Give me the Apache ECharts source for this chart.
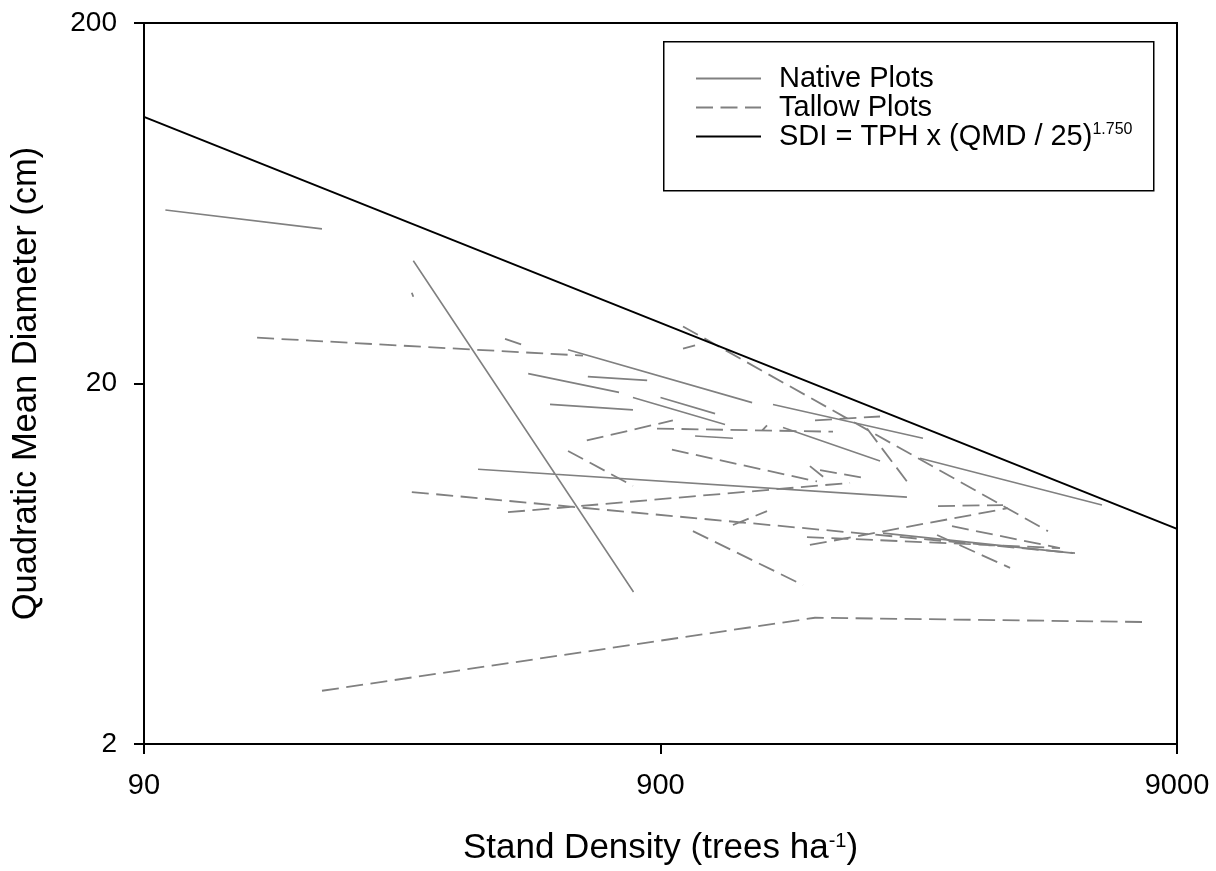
<!DOCTYPE html>
<html>
<head>
<meta charset="utf-8">
<script src="https://cdn.jsdelivr.net/npm/echarts@6/dist/echarts.min.js"></script>
<style>
html,body{margin:0;padding:0;background:#fff;}
#chart{width:1216px;height:871px;}
</style>
</head>
<body>
<div id="chart"></div>
<script>
// ---- data (stand density trees/ha, QMD cm) ----
const xTicks = [90, 900, 9000];
const yTicks = [2, 20, 200];

const nativeSegments = [
  [[99, 60.6], [199, 53.7]],
  [[299, 43.8], [798, 5.28]],
  [[399, 11.56], [2700, 9.68]],
  [[596, 24.8], [1354, 17.7]],
  [[499, 21.3], [748, 18.9]],
  [[651, 20.9], [848, 20.4]],
  [[550, 17.5], [796, 16.9]],
  [[796, 18.3], [1200, 15.4]],
  [[900, 18.3], [1148, 16.5]],
  [[1050, 14.3], [1243, 14.1]],
  [[1486, 17.5], [2900, 14.1]],
  [[1554, 15.1], [2395, 12.2]],
  [[2862, 12.4], [6442, 9.2]],
  [[2427, 7.69], [5661, 6.77]]
];

const tallowSegments = [
  [[149, 26.8], [637, 23.9]],
  [[297, 35.7], [299, 34.8]],
  [[450, 26.6], [499, 25.3]],
  [[995, 28.8], [5063, 7.79]],
  [[995, 25.0], [1050, 25.5]],
  [[648, 13.9], [951, 15.8]],
  [[886, 15.0], [1942, 14.7]],
  [[1792, 15.8], [2395, 16.2]],
  [[947, 13.1], [1808, 10.7]],
  [[596, 13.0], [796, 10.4]],
  [[297, 10.0], [5711, 6.77]],
  [[456, 8.79], [2095, 10.6]],
  [[1752, 11.8], [1891, 10.8]],
  [[1833, 11.5], [2260, 10.9]],
  [[1243, 8.10], [1447, 8.85]],
  [[1040, 7.79], [1699, 5.52]],
  [[199, 2.81], [1792, 4.48], [7700, 4.36]],
  [[1729, 7.50], [5342, 6.99]],
  [[1752, 7.13], [4238, 9.02]],
  [[3101, 9.14], [4144, 9.2]],
  [[3088, 7.60], [4276, 6.16]],
  [[3301, 8.04], [5342, 6.99]],
  [[2260, 15.0], [2700, 10.7]],
  [[1415, 14.8], [1447, 15.3]]
];

const sdiLine = [[90, 109.8], [9000, 7.9]];

const seriesNames = ['Native Plots', 'Tallow Plots', 'SDI'];

// ---- build ----
function joinSegments(segs) {
  const out = [];
  segs.forEach((s, i) => {
    if (i > 0) out.push(['-', '-']);
    s.forEach(p => out.push(p));
  });
  return out;
}

const FONT = '"Liberation Sans", Arial, sans-serif';
const chart = echarts.init(document.getElementById('chart'), null, {renderer: 'canvas'});

const axisCommon = {
  type: 'log',
  logBase: 10,
  axisLine: {show: true, lineStyle: {color: '#000', width: 2}},
  axisTick: {show: true, inside: false, length: 10, lineStyle: {color: '#000', width: 2}},
  splitLine: {show: false},
  minorTick: {show: false},
  nameLocation: 'middle'
};

chart.setOption({
  animation: false,
  backgroundColor: '#fff',
  grid: {left: 144, right: 39, top: 23, bottom: 125, show: true, borderColor: '#000', borderWidth: 2, containLabel: false},
  xAxis: Object.assign({}, axisCommon, {
    min: xTicks[0], max: xTicks[xTicks.length - 1],
    name: 'Stand Density (trees ha{sup|-1})',
    nameGap: 87,
    nameTextStyle: {
      fontFamily: FONT, fontSize: 35, color: '#000',
      rich: {sup: {fontFamily: FONT, fontSize: 20, color: '#000', verticalAlign: 'top', lineHeight: 16}}
    },
    axisTick: Object.assign({}, axisCommon.axisTick, {customValues: xTicks}),
    axisLabel: {customValues: xTicks, fontFamily: FONT, fontSize: 29, color: '#000', margin: 27,
      formatter: v => String(Math.round(v))}
  }),
  yAxis: Object.assign({}, axisCommon, {
    min: yTicks[0], max: yTicks[yTicks.length - 1],
    name: 'Quadratic Mean Diameter (cm)',
    nameGap: 100,
    nameTextStyle: {fontFamily: FONT, fontSize: 34.5, color: '#000'},
    axisTick: Object.assign({}, axisCommon.axisTick, {customValues: yTicks}),
    axisLabel: {customValues: yTicks, fontFamily: FONT, fontSize: 28, color: '#000', margin: 27,
      formatter: v => String(Math.round(v))}
  }),
  legend: {
    orient: 'vertical',
    left: 695,
    top: 64,
    padding: 0,
    itemWidth: 65,
    itemHeight: 14,
    itemGap: 0,
    selectedMode: false,
    data: seriesNames,
    itemStyle: {opacity: 0, color: 'rgba(0,0,0,0)', borderWidth: 0},
    formatter: n => n === 'SDI' ? 'SDI = TPH x (QMD / 25){sup|1.750}' : n,
    textStyle: {
      fontFamily: FONT, fontSize: 29, color: '#000', lineHeight: 29, padding: [0, 0, 0, 13],
      rich: {sup: {fontFamily: FONT, fontSize: 16, color: '#000', verticalAlign: 'top', lineHeight: 14}}
    }
  },
  graphic: [{
    type: 'rect', left: 663, top: 41, z: -1,
    shape: {width: 490, height: 149},
    style: {fill: '#fff', stroke: '#000', lineWidth: 1.5}
  }],
  series: [
    {
      name: seriesNames[0], type: 'line', data: joinSegments(nativeSegments),
      symbol: 'none', connectNulls: false, silent: true,
      lineStyle: {color: '#808080', width: 1.6, type: 'solid'},
      itemStyle: {color: '#808080'}
    },
    {
      name: seriesNames[1], type: 'line', data: joinSegments(tallowSegments),
      symbol: 'none', connectNulls: false, silent: true,
      lineStyle: {color: '#808080', width: 1.8, type: [17, 7.5]},
      itemStyle: {color: '#808080'}
    },
    {
      name: seriesNames[2], type: 'line', data: sdiLine,
      symbol: 'none', silent: true,
      lineStyle: {color: '#000', width: 2},
      itemStyle: {color: '#000'}
    }
  ]
});
</script>
</body>
</html>
